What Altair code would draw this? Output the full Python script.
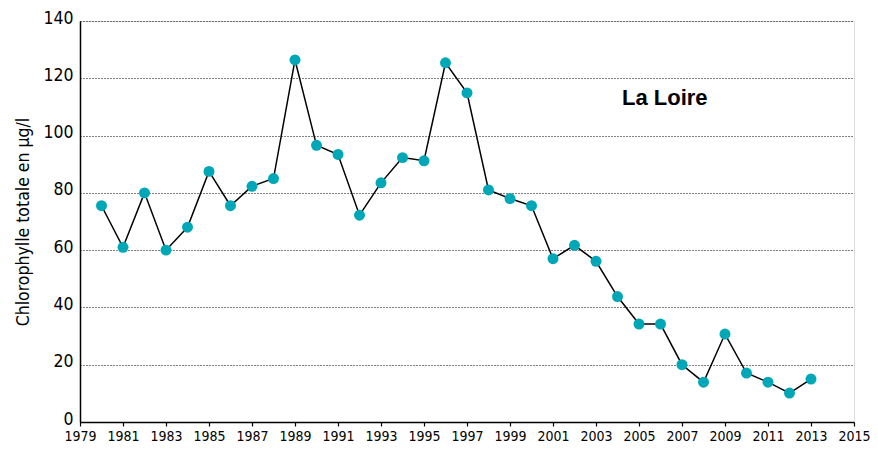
import altair as alt
import pandas as pd

years = list(range(1980, 2014))
chloro = [75.5, 61, 80, 60, 68, 87.5, 75.5, 82.3, 85, 126.4,
          96.6, 93.4, 72.2, 83.5, 92.3, 91.2, 125.4, 114.9, 81, 78,
          75.5, 57, 61.7, 56.1, 43.8, 34.2, 34.2, 20, 13.9, 30.7,
          17.1, 13.9, 10.1, 15]
x_ticks = list(range(1979, 2016, 2))
y_ticks = list(range(0, 141, 20))
title_text = ["La Loire"]
title_x = [2006.2]
title_y = [113]

FONT = "DejaVu Sans Condensed, sans-serif"
TEAL = "#00a8b7"

df = pd.DataFrame({"year": years, "value": chloro})
tdf = pd.DataFrame({"t": title_text, "x": title_x, "y": title_y})

xs = alt.Scale(domain=[1979, 2015], nice=False, zero=False)
ys = alt.Scale(domain=[0, 140], nice=False)

x_enc = alt.X("year:Q", scale=xs, axis=alt.Axis(
    values=x_ticks, format="d", title=None, grid=False,
    tickSize=4, tickColor="black", tickWidth=1.2, labelPadding=3,
    labelFont=FONT, labelFontSize=14, labelColor="black",
    domainColor="black", domainWidth=1.5, labelFlush=False))
y_enc = alt.Y("value:Q", scale=ys, axis=alt.Axis(
    values=y_ticks, title="Chlorophylle totale en µg/l",
    grid=True, gridColor="black", gridDash=[1, 2], gridWidth=1,
    ticks=False, labelPadding=7, labelOffset=-3, labelFont=FONT, labelFontSize=17.5,
    labelColor="black", titleFont=FONT, titleFontSize=17.5,
    titleFontWeight="normal", titleColor="black", titlePadding=10,
    domainColor="black", domainWidth=1.5))

line = alt.Chart(df).mark_line(color="black", strokeWidth=1.5).encode(x=x_enc, y=y_enc)
pts = alt.Chart(df).mark_circle(color=TEAL, size=120, opacity=1).encode(x="year:Q", y="value:Q")
title = alt.Chart(tdf).mark_text(font="Liberation Sans, Arial, sans-serif", fontSize=22,
                                  fontWeight="bold", color="black", baseline="middle",
                                  align="center").encode(
    x=alt.X("x:Q", scale=xs), y=alt.Y("y:Q", scale=ys), text="t:N")

chart = alt.layer(line, pts, title).properties(
    width=774, height=401,
    autosize=alt.AutoSizeParams(type="none"),
    padding={"left": 72, "top": 13, "right": 16, "bottom": 24},
).configure_view(stroke=None).configure(background="white")

chart.save("out.html", embed_options={"renderer": "svg", "actions": False})
